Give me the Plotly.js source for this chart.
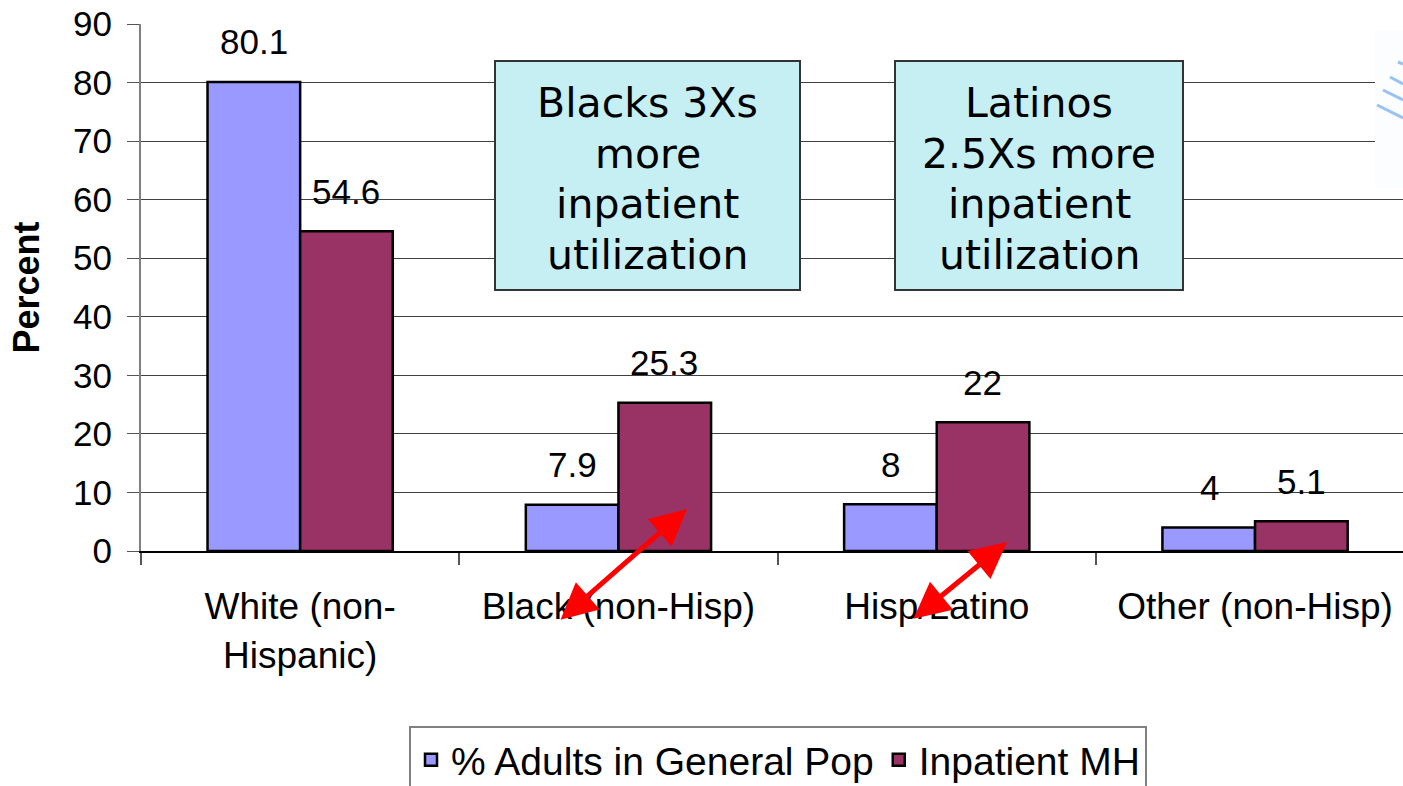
<!DOCTYPE html>
<html>
<head>
<meta charset="utf-8">
<script src="https://cdn.plot.ly/plotly-3.0.1.min.js"></script>
<style>
html, body { margin: 0; padding: 0; overflow: hidden; background: #fff; }
#chart { width: 1403px; height: 786px; }
</style>
</head>
<body>
<div id="chart"></div>
<script>
// ---- data ----
const categories = ['White (non-<br>Hispanic)', 'Black (non-Hisp)', 'Hisp/Latino', 'Other (non-Hisp)'];
const genPop = [80.1, 7.9, 8, 4];
const inpatient = [54.6, 25.3, 22, 5.1];
const seriesNames = ['% Adults in General Pop', 'Inpatient MH'];
const yTicks = [0, 10, 20, 30, 40, 50, 60, 70, 80, 90];
const calloutBlack = ['Blacks 3Xs', 'more', 'inpatient', 'utilization'];
const calloutLatino = ['Latinos', '2.5Xs more', 'inpatient', 'utilization'];

// ---- geometry helpers (pixel -> paper) ----
const L = 141, R = 1403, T = 24, B = 551;
const px = v => (v - L) / (R - L);
const py = v => (B - v) / (B - T);

const font = 'Liberation Sans, Arial, sans-serif';
const boxFont = 'DejaVu Sans, Tahoma, sans-serif';

const traces = [
  {
    type: 'bar', name: seriesNames[0], x: categories, y: genPop,
    marker: { color: '#9999FF', line: { color: '#000000', width: 2.5 } },
    hoverinfo: 'skip'
  },
  {
    type: 'bar', name: seriesNames[1], x: categories, y: inpatient,
    marker: { color: '#993366', line: { color: '#000000', width: 2.5 } },
    hoverinfo: 'skip'
  }
];

const annotations = [];
// value labels
[genPop, inpatient].forEach((vals, s) => {
  vals.forEach((v, i) => {
    annotations.push({
      x: categories[i], y: v, xref: 'x', yref: 'y',
      text: String(v), showarrow: false,
      xshift: s === 0 ? -46 : 46, yshift: 40,
      yanchor: 'middle', xanchor: 'center',
      font: { family: font, size: 35, color: '#000' }
    });
  });
});
// callout texts (one annotation per line for exact line spacing)
[[calloutBlack, 647.5], [calloutLatino, 1039]].forEach(([lines, cx]) => {
  lines.forEach((ln, i) => {
    annotations.push({
      xref: 'paper', yref: 'paper', x: px(cx), y: py(103 + i * 50.7),
      text: ln, showarrow: false,
      xanchor: 'center', yanchor: 'middle', align: 'center',
      font: { family: boxFont, size: 41, color: '#000' }
    });
  });
});
// red double arrows
[[687, 509, 559, 621], [1007, 542, 912, 620]].forEach(([hx, hy, tx, ty]) => {
  annotations.push({
    xref: 'paper', yref: 'paper', x: px(hx), y: py(hy),
    ax: tx - hx, ay: ty - hy, axref: 'pixel', ayref: 'pixel',
    text: '', showarrow: true, arrowside: 'end+start',
    arrowhead: 2, startarrowhead: 2, arrowsize: 1.45, startarrowsize: 1.45,
    arrowwidth: 5, arrowcolor: '#FF0000', standoff: 0, startstandoff: 0
  });
});

const shapes = [
  // callout boxes
  { type: 'rect', xref: 'paper', yref: 'paper', x0: px(495), x1: px(800), y0: py(290), y1: py(61),
    fillcolor: '#C5EFF3', line: { color: '#333333', width: 2 }, layer: 'above' },
  { type: 'rect', xref: 'paper', yref: 'paper', x0: px(895), x1: px(1183), y0: py(290), y1: py(61),
    fillcolor: '#C5EFF3', line: { color: '#333333', width: 2 }, layer: 'above' },
  // faint decorative image patch at right edge
  { type: 'rect', xref: 'paper', yref: 'paper', x0: px(1375), x1: px(1403), y0: py(188), y1: py(30),
    fillcolor: '#FCFDFE', line: { width: 0 }, layer: 'above' }
];
[[1398, 62, 1403, 64], [1390, 77, 1403, 84], [1383, 90, 1403, 100], [1377, 105, 1403, 118]].forEach(([x0, y0, x1, y1]) => {
  shapes.push({ type: 'line', xref: 'paper', yref: 'paper', x0: px(x0), y0: py(y0), x1: px(x1), y1: py(y1),
    line: { color: '#7FB4F2', width: 3 }, opacity: 0.8, layer: 'above' });
});

const layout = {
  width: 1403, height: 786,
  margin: { l: L, r: 1403 - R, t: T, b: 786 - B, autoexpand: false },
  paper_bgcolor: '#ffffff', plot_bgcolor: '#ffffff',
  barmode: 'group', bargap: 0.418, bargroupgap: 0,
  showlegend: true,
  legend: {
    orientation: 'h', x: px(778), xanchor: 'center', y: py(726), yanchor: 'top',
    bordercolor: '#808080', borderwidth: 2, bgcolor: '#ffffff',
    font: { family: font, size: 39, color: '#000' }
  },
  xaxis: {
    type: 'category', range: [-0.5, -0.5 + (R - L) / 318.3],
    showline: true, linecolor: '#000000', linewidth: 2,
    ticks: 'outside', tickson: 'boundaries', ticklen: 12, tickcolor: '#555555', tickwidth: 2,
    showgrid: false, zeroline: false, ticklabelstandoff: 22,
    tickfont: { family: font, size: 37, color: '#000' }
  },
  yaxis: {
    range: [0, 90], tickvals: yTicks, ticktext: yTicks.map(String),
    showline: true, linecolor: '#808080', linewidth: 2,
    ticks: 'outside', ticklen: 12, tickcolor: '#555555', tickwidth: 1,
    showgrid: true, gridcolor: '#404040', gridwidth: 1, zeroline: false,
    ticklabelstandoff: 8,
    tickfont: { family: font, size: 35, color: '#000' },
    title: { text: '<b>Percent</b>', font: { family: font, size: 36, color: '#000' }, standoff: 22 }
  },
  annotations: annotations,
  shapes: shapes
};

Plotly.newPlot('chart', traces, layout, { displayModeBar: false, staticPlot: true });
</script>
</body>
</html>
